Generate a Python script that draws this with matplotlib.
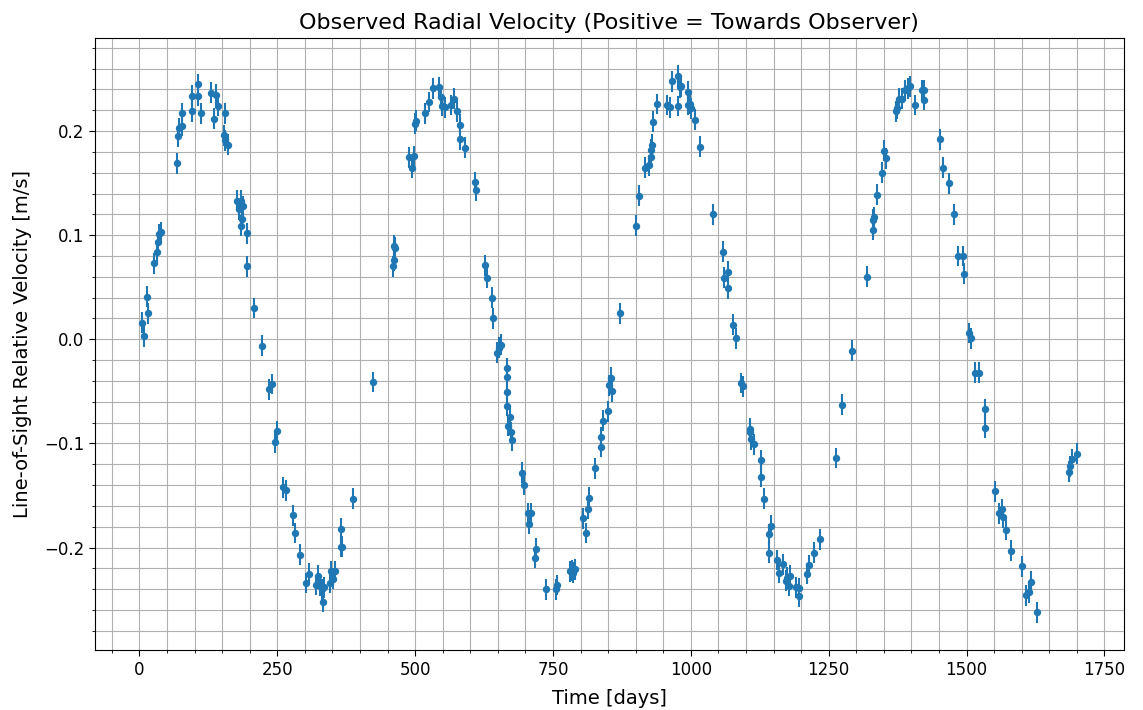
#!/usr/bin/env python3
"""Observed radial velocity with error bars"""
import matplotlib
matplotlib.use("Agg")
import matplotlib.pyplot as plt

# observation times [days]
days = [
    4, 8, 13, 15, 26, 32, 33, 36, 39, 68, 70, 72, 78, 77, 95, 96, 107, 106,
    112, 130, 139, 136, 143, 156, 153, 156, 161, 177, 180, 184, 188, 186, 184,
    195, 195, 208, 223, 235, 240, 250, 246, 261, 266, 278, 283, 291, 303, 307,
    320, 323, 327, 331, 333, 335, 345, 347, 351, 355, 365, 368, 366, 387, 423,
    459, 461, 461, 464, 489, 494, 498, 499, 502, 518, 526, 533, 543, 547, 549,
    555, 565, 571, 576, 582, 581, 590, 608, 610, 627, 631, 640, 642, 648, 652,
    655, 666, 666, 666, 667, 672, 669, 674, 675, 693, 698, 704, 710, 706, 719,
    717, 738, 756, 758, 781, 785, 790, 787, 804, 809, 813, 816, 827, 838, 838,
    841, 850, 851, 856, 857, 871,
    900, 906, 917, 924, 928, 928, 930, 932, 938, 956, 963, 965, 976, 976, 980,
    983, 994, 994, 998, 1000, 1007, 1016, 1041, 1058, 1061, 1068, 1068, 1077,
    1082, 1091, 1094, 1107, 1107, 1110, 1114, 1127, 1127, 1133, 1145, 1142,
    1141, 1156, 1160, 1168, 1173, 1174, 1179, 1178, 1191, 1197, 1197, 1211,
    1215, 1224, 1235, 1263, 1275, 1293,
    1319, 1330, 1331, 1333, 1338, 1346, 1350, 1354, 1372, 1374, 1377, 1383,
    1388, 1393, 1397, 1407, 1419, 1423, 1423, 1452, 1457, 1469, 1477, 1485,
    1493, 1495, 1505, 1508, 1516, 1523, 1534, 1534, 1552, 1558, 1565, 1567,
    1572, 1581, 1600, 1617, 1608, 1613, 1627, 1685, 1688, 1691, 1700,
]

# line-of-sight velocity [m/s]
velocity = [
    0.016, 0.003, 0.041, 0.025, 0.073, 0.084, 0.093, 0.101, 0.103, 0.169,
    0.195, 0.203, 0.205, 0.217, 0.234, 0.219, 0.245, 0.234, 0.217, 0.237,
    0.235, 0.212, 0.224, 0.217, 0.196, 0.191, 0.187, 0.133, 0.125, 0.133,
    0.128, 0.116, 0.109, 0.102, 0.070, 0.030, -0.006, -0.048, -0.043, -0.088,
    -0.099, -0.142, -0.145, -0.169, -0.186, -0.207, -0.234, -0.225, -0.236,
    -0.227, -0.237, -0.240, -0.252, -0.238, -0.234, -0.223, -0.230, -0.223,
    -0.199, -0.199, -0.182, -0.153, -0.041,
    0.070, 0.076, 0.090, 0.088, 0.175, 0.165, 0.176, 0.207, 0.210, 0.217,
    0.228, 0.241, 0.242, 0.233, 0.224, 0.223, 0.225, 0.231, 0.219, 0.206,
    0.192, 0.184, 0.151, 0.143, 0.071, 0.059, 0.040, 0.020, -0.013, -0.008,
    -0.005, -0.028, -0.036, -0.051, -0.064, -0.075, -0.083, -0.089, -0.097,
    -0.128, -0.140, -0.167, -0.167, -0.177, -0.201, -0.210, -0.240, -0.240,
    -0.236, -0.223, -0.222, -0.221, -0.224, -0.172, -0.186, -0.163, -0.152,
    -0.124, -0.103, -0.094, -0.078, -0.069, -0.044, -0.037, -0.050, 0.025,
    0.109, 0.138, 0.165, 0.167, 0.175, 0.182, 0.187, 0.209, 0.226, 0.225,
    0.223, 0.248, 0.253, 0.224, 0.242, 0.243, 0.238, 0.225, 0.226, 0.222,
    0.211, 0.185, 0.120, 0.084, 0.059, 0.065, 0.049, 0.014, 0.001, -0.042,
    -0.045, -0.086, -0.089, -0.096, -0.101, -0.116, -0.132, -0.153, -0.179,
    -0.187, -0.205, -0.212, -0.224, -0.216, -0.232, -0.229, -0.227, -0.237,
    -0.238, -0.239, -0.247, -0.225, -0.217, -0.205, -0.192, -0.114, -0.063,
    -0.011,
    0.060, 0.105, 0.115, 0.117, 0.139, 0.160, 0.181, 0.174, 0.219, 0.222,
    0.231, 0.231, 0.239, 0.241, 0.243, 0.225, 0.239, 0.239, 0.230, 0.192,
    0.165, 0.150, 0.120, 0.080, 0.080, 0.063, 0.006, 0.001, -0.032, -0.032,
    -0.067, -0.085, -0.146, -0.167, -0.163, -0.171, -0.183, -0.203, -0.218,
    -0.233, -0.246, -0.243, -0.262, -0.127, -0.122, -0.115, -0.110,
]

velocity_err = 0.01


def main():
    dpi = 100
    fig, ax = plt.subplots(figsize=(1143 / dpi, 710 / dpi), dpi=dpi)
    fig.subplots_adjust(left=0.083, right=0.983, top=0.947, bottom=0.084)

    ax.errorbar(days, velocity, yerr=velocity_err, fmt="o", markersize=4.3)

    ax.set_title("Observed Radial Velocity (Positive = Towards Observer)", fontsize=16)
    ax.set_xlabel("Time [days]", fontsize=14, labelpad=7)
    ax.set_ylabel("Line-of-Sight Relative Velocity [m/s]", fontsize=14, labelpad=9)
    ax.tick_params(labelsize=12)
    ax.tick_params(which="major", length=5.7 * 72 / dpi)
    ax.tick_params(which="minor", length=3.3 * 72 / dpi)
    ax.minorticks_on()
    ax.grid(True, which="both")

    fig.savefig("out.png", dpi=dpi)


if __name__ == "__main__":
    main()
